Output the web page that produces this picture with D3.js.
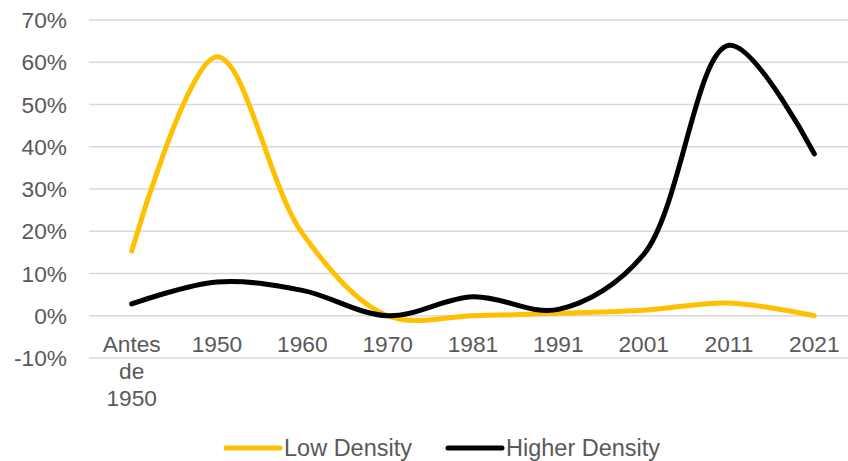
<!DOCTYPE html>
<html>
<head>
<meta charset="utf-8">
<script src="https://cdn.jsdelivr.net/npm/d3@7"></script>
<style>
  body { margin: 0; background: #fff; }
  text { font-family: "Liberation Sans", Arial, sans-serif; fill: #595959; }
</style>
</head>
<body>
<div id="chart"></div>
<script>
// data
var categories = ["Antes de 1950", "1950", "1960", "1970", "1981", "1991", "2001", "2011", "2021"];
var lowDensity = [15.3, 61.3, 19.5, 0, 0, 0.6, 1.3, 3, 0];
var higherDensity = [2.8, 8, 6, 0, 4.5, 1.5, 14.5, 64, 38.3];
var yTicks = [-10, 0, 10, 20, 30, 40, 50, 60, 70];
var seriesNames = ["Low Density", "Higher Density"];
var colors = ["#FFC000", "#000000"];

var W = 848, H = 461;
var margin = {left: 89, right: -9, top: 20, bottom: 103};
var width = W - margin.left - margin.right,
    height = H - margin.top - margin.bottom;

var svg = d3.select("#chart").append("svg")
    .attr("width", W)
    .attr("height", H);

var g = svg.append("g")
    .attr("transform", "translate(" + margin.left + "," + margin.top + ")");

var x = d3.scalePoint()
    .domain(categories)
    .range([0, width])
    .padding(0.5);

var y = d3.scaleLinear()
    .domain([-10, 70])
    .range([height, 0]);

// gridlines
g.append("g")
    .selectAll("line")
    .data(yTicks)
    .enter().append("line")
    .attr("x1", 0)
    .attr("x2", W - margin.left)
    .attr("y1", function(d) { return y(d); })
    .attr("y2", function(d) { return y(d); })
    .attr("stroke", "#d9d9d9")
    .attr("stroke-width", 1.3);

// y labels
g.append("g")
    .selectAll("text")
    .data(yTicks)
    .enter().append("text")
    .attr("x", -22)
    .attr("y", function(d) { return y(d); })
    .attr("dy", "0.36em")
    .attr("text-anchor", "end")
    .style("font-size", "22.7px")
    .text(function(d) { return d + "%"; });

// x labels (wrap "Antes de 1950")
var xl = g.append("g")
    .selectAll("text")
    .data(categories)
    .enter().append("text")
    .attr("x", function(d) { return x(d); })
    .attr("y", y(0) + 36)
    .attr("text-anchor", "middle")
    .style("font-size", "22.7px");

xl.each(function(d) {
    var words = d.split(" ");
    var t = d3.select(this);
    words.forEach(function(w, i) {
        t.append("tspan")
            .attr("x", x(d))
            .attr("dy", i === 0 ? 0 : 27)
            .text(w);
    });
});

// lines
var line = d3.line()
    .x(function(d, i) { return x(categories[i]); })
    .y(function(d) { return y(d); })
    .curve(d3.curveCatmullRom);

[lowDensity, higherDensity].forEach(function(s, i) {
    g.append("path")
        .datum(s)
        .attr("fill", "none")
        .attr("stroke", colors[i])
        .attr("stroke-width", 5)
        .attr("stroke-linecap", "round")
        .attr("stroke-linejoin", "round")
        .attr("d", line);
});

// legend
var legendX = [225, 447];
var legend = svg.append("g")
    .selectAll("g")
    .data(seriesNames)
    .enter().append("g")
    .attr("transform", function(d, i) { return "translate(" + legendX[i] + ",448)"; });

legend.append("line")
    .attr("x1", 1)
    .attr("x2", 55)
    .attr("stroke", function(d, i) { return colors[i]; })
    .attr("stroke-width", 5)
    .attr("stroke-linecap", "round");

legend.append("text")
    .attr("x", 59)
    .attr("dy", "0.36em")
    .style("font-size", "23.5px")
    .text(function(d) { return d; });
</script>
</body>
</html>
